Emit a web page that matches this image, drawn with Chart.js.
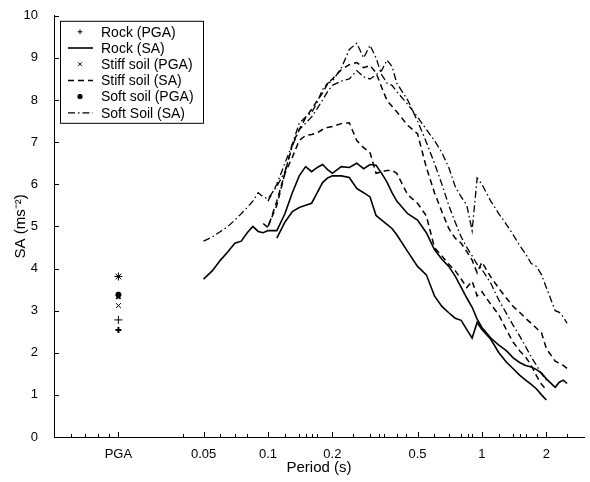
<!DOCTYPE html>
<html>
<head>
<meta charset="utf-8">
<script src="https://cdn.jsdelivr.net/npm/chart.js@4.4.1/dist/chart.umd.min.js"></script>
<style>
  body { margin: 0; background: #fff; }
  #wrap { width: 590px; height: 482px; }
</style>
</head>
<body>
<div id="wrap"><canvas id="saChart" width="590" height="482"></canvas></div>
<script>
// x position used for the PGA markers (plotted on the log period axis)
const pgaPeriod = 0.02;

const rockPGA = [2.78, 2.54];
const stiffPGA = [3.12, 3.33];
const softPGA = [3.81, 3.38];

// common period grid (s); null = no value for that record
const periods = [0.05, 0.055, 0.06, 0.065, 0.07, 0.075, 0.08, 0.085, 0.09, 0.095,
                 0.1, 0.11, 0.12, 0.13, 0.14, 0.15, 0.16, 0.17, 0.18, 0.19,
                 0.2, 0.22, 0.24, 0.26, 0.28, 0.3, 0.32, 0.34, 0.36, 0.38,
                 0.4, 0.45, 0.5, 0.55, 0.6, 0.65, 0.7, 0.75, 0.8, 0.85,
                 0.9, 0.95, 1, 1.1, 1.2, 1.3, 1.4, 1.5, 1.6, 1.7,
                 1.8, 1.9, 2, 2.2, 2.3, 2.4, 2.5];

const rockSA1 = [3.75, 3.95, 4.2, 4.4, 4.6, 4.65, 4.85, 5.0, 4.88, 4.85,
                 4.9, 4.9, 5.3, 5.8, 6.2, 6.42, 6.3, 6.4, 6.47, 6.35,
                 6.26, 6.42, 6.4, 6.5, 6.37, 6.47, 6.45, 6.26, 6.05, 5.8,
                 5.6, 5.3, 5.15, 4.85, 4.45, 4.22, 4.05, 3.82, 3.55, 3.3,
                 3.08, 2.8, 2.6, 2.35, 2.18, 2.05, 1.88, 1.77, 1.7, 1.66,
                 1.6, 1.52, 1.38, 1.18, 1.3, 1.35, 1.27];
const rockSA2 = [null, null, null, null, null, null, null, null, null, null,
                 null, 4.72, 5.1, 5.35, 5.45, 5.5, 5.55, 5.8, 6.04, 6.15,
                 6.2, 6.2, 6.16, 5.9, 5.8, 5.7, 5.26, 5.15, 5.05, 4.95,
                 4.8, 4.4, 4.05, 3.85, 3.35, 3.1, 2.95, 2.82, 2.77, 2.55,
                 2.35, 2.72, 2.55, 2.32, 2.0, 1.78, 1.62, 1.47, 1.35, 1.25,
                 1.14, 1.0, 0.88, null, null, null, null];
const stiffSA1 = [null, null, null, null, null, null, null, null, null, 5.07,
                  4.97, 5.6, 6.26, 6.64, 7.04, 7.16, 7.18, 7.22, 7.3, 7.35,
                  7.37, 7.44, 7.46, 7.04, 6.87, 6.75, 6.26, 6.3, 6.33, 6.33,
                  6.26, 5.75, 5.55, 5.25, 4.5, 4.3, 4.1, 3.95, 3.75, 3.55,
                  3.7, 3.35, 3.45, 3.15, 2.9, 2.55, 2.25, 2.05, 1.9, 1.7,
                  1.45, 1.25, 1.12, null, null, null, null];
const stiffSA2 = [null, null, null, null, null, null, null, null, null, null,
                  5.0, 5.5, 6.26, 6.95, 7.3, 7.58, 7.78, 7.99, 8.17, 8.39,
                  8.5, 8.72, 8.84, 8.89, 8.77, 8.82, 8.65, 8.3, 7.99, 7.85,
                  7.72, 7.4, 7.2, 6.4, 5.8, 5.35, 4.95, 4.72, 4.6, 4.4,
                  4.2, 3.9, 4.15, 3.8, 3.53, 3.3, 3.1, 2.96, 2.82, 2.7,
                  2.58, 2.47, 2.1, 1.8, 1.75, 1.7, 1.63];
const softSA1 = [4.65, 4.75, 4.88, 5.0, 5.15, 5.3, 5.45, 5.6, 5.8, 5.7,
                 5.66, 5.95, 6.3, 6.9, 7.3, 7.45, 7.6, 7.8, 8.0, 8.2,
                 8.35, 8.45, 8.5, 8.7, 8.55, 8.5, 8.6, 8.7, 8.95, 8.8,
                 8.4, 8.0, 7.5, 7.0, 6.5, 6.0, 5.5, 5.1, 4.75, 4.5,
                 4.3, 4.1, 3.98, 3.65, 3.25, 2.94, 2.65, 2.4, 2.15, 1.9,
                 1.7, 1.5, 1.35, null, null, null, null];
const softSA2 = [null, null, null, null, null, null, null, null, null, null,
                 5.6, 6.0, 6.5, 6.95, 7.45, 7.6, 7.7, 7.95, 8.25, 8.4,
                 8.45, 8.75, 9.2, 9.35, 9.0, 9.3, 9.0, 8.6, 8.4, 8.35,
                 8.2, 7.9, 7.6, 7.3, 7.04, 6.75, 6.4, 5.95, 5.7, 5.5,
                 4.9, 6.15, 6.0, 5.6, 5.3, 5.05, 4.8, 4.55, 4.35, 4.12,
                 4.05, 3.85, 3.55, 3.0, 2.96, 2.85, 2.7];

// x axis labels and tick marks
const tickValues = [0.02, 0.05, 0.1, 0.2, 0.5, 1, 2];
const tickLabels = ['PGA', '0.05', '0.1', '0.2', '0.5', '1', '2'];
const minorTicks = [0.012, 0.014, 0.016, 0.018, 0.04, 0.06, 0.07, 0.08, 0.12, 0.14,
                    0.15, 0.16, 0.17, 0.25, 0.3, 0.33, 0.35, 0.4, 0.44, 0.6,
                    0.7, 0.8, 0.86, 0.9, 1.2, 1.4, 1.5, 1.6, 1.8, 2.5];

const legendLabels = ['Rock (PGA)', 'Rock (SA)', 'Stiff soil (PGA)', 'Stiff soil (SA)', 'Soft soil (PGA)', 'Soft Soil (SA)'];

function toPoints(vals) {
    return periods.map((t, i) => ({ x: t, y: vals[i] })).filter(p => p.y !== null);
}
function pgaPoints(vals) {
    return vals.map(v => ({ x: pgaPeriod, y: v }));
}

const dashStiff = [6, 4];
const dashSoft = [7, 3, 1.5, 3];

function pgaSet(label, vals, style, radius, width) {
    return {
        label: label, data: pgaPoints(vals), showLine: false,
        pointStyle: style, pointRadius: radius, pointBorderWidth: width,
        borderColor: '#000', backgroundColor: '#000'
    };
}
function saSet(label, vals, dash, width) {
    return {
        label: label, data: toPoints(vals), showLine: true,
        borderColor: '#000', borderWidth: width, borderDash: dash,
        pointRadius: 0, tension: 0, fill: false
    };
}

const datasets = [
    pgaSet('Rock (PGA)', rockPGA, 'cross', [4, 3], [1, 2]),
    saSet('Rock (SA)', rockSA1, [], 1.6),
    saSet('Rock (SA)', rockSA2, [], 1.6),
    pgaSet('Stiff soil (PGA)', stiffPGA, 'crossRot', [3.5, 3], [1, 2]),
    saSet('Stiff soil (SA)', stiffSA1, dashStiff, 1.5),
    saSet('Stiff soil (SA)', stiffSA2, dashStiff, 1.5),
    pgaSet('Soft soil (PGA)', softPGA, 'star', [4, 3], [1, 2]),
    saSet('Soft Soil (SA)', softSA1, dashSoft, 1.3),
    saSet('Soft Soil (SA)', softSA2, dashSoft, 1.3)
];

function drawMarker(ctx, kind, x, y, r) {
    ctx.beginPath();
    if (kind === 'cross' || kind === 'star') {
        ctx.moveTo(x - r, y); ctx.lineTo(x + r, y);
        ctx.moveTo(x, y - r); ctx.lineTo(x, y + r);
    }
    if (kind === 'crossRot' || kind === 'star') {
        const d = r * 0.75;
        ctx.moveTo(x - d, y - d); ctx.lineTo(x + d, y + d);
        ctx.moveTo(x - d, y + d); ctx.lineTo(x + d, y - d);
    }
    ctx.stroke();
}

// MATLAB style ticks pointing into the plot
const inwardTicks = {
    id: 'inwardTicks',
    afterDraw(chart) {
        const { ctx, chartArea, scales } = chart;
        const xs = scales.x, ys = scales.y;
        ctx.save();
        ctx.strokeStyle = '#000';
        ctx.lineWidth = 1;
        ctx.beginPath();
        tickValues.forEach(v => {
            const px = Math.round(xs.getPixelForValue(v)) + 0.5;
            ctx.moveTo(px, chartArea.bottom);
            ctx.lineTo(px, chartArea.bottom - 5);
        });
        minorTicks.forEach(v => {
            const px = Math.round(xs.getPixelForValue(v)) + 0.5;
            ctx.moveTo(px, chartArea.bottom);
            ctx.lineTo(px, chartArea.bottom - 3);
        });
        for (let v = 0; v <= 10; v++) {
            const py = Math.round(ys.getPixelForValue(v)) + 0.5;
            ctx.moveTo(chartArea.left, py);
            ctx.lineTo(chartArea.left + 5, py);
        }
        ctx.stroke();
        ctx.restore();
    }
};

// boxed legend inside the axes, top left
const boxLegend = {
    id: 'boxLegend',
    afterDraw(chart) {
        const ctx = chart.ctx;
        const left = chart.chartArea.left + 6, top = chart.chartArea.top + 5;
        const w = 143, h = 102, rowH = 16.2;
        ctx.save();
        ctx.fillStyle = '#fff';
        ctx.fillRect(left, top, w, h);
        ctx.strokeStyle = '#000';
        ctx.lineWidth = 1;
        ctx.strokeRect(left + 0.5, top + 0.5, w, h);
        ctx.font = '14px "Liberation Sans", Arial, sans-serif';
        ctx.textBaseline = 'middle';
        legendLabels.forEach((label, i) => {
            const ds = chart.data.datasets.find(d => d.label === label);
            const y = top + 11 + i * rowH;
            ctx.strokeStyle = '#000';
            if (ds.showLine) {
                ctx.lineWidth = ds.borderWidth;
                ctx.setLineDash(ds.borderDash);
                ctx.beginPath();
                ctx.moveTo(left + 8, y);
                ctx.lineTo(left + 33, y);
                ctx.stroke();
                ctx.setLineDash([]);
            } else {
                ctx.lineWidth = ds.pointStyle === 'star' ? 2 : 1;
                drawMarker(ctx, ds.pointStyle, left + 20, y, 2.5);
            }
            ctx.fillStyle = '#000';
            ctx.fillText(label, left + 41, y + 1);
        });
        ctx.restore();
    }
};

const tickFont = { family: '"Liberation Sans", Arial, sans-serif', size: 13 };
const titleFont = { family: '"Liberation Sans", Arial, sans-serif', size: 15 };

new Chart(document.getElementById('saChart'), {
    type: 'scatter',
    data: { datasets: datasets },
    options: {
        responsive: false,
        animation: false,
        layout: { padding: { top: 15, right: 1, left: 0, bottom: 0 } },
        plugins: { legend: { display: false }, tooltip: { enabled: false } },
        scales: {
            x: {
                type: 'logarithmic',
                min: 0.01,
                max: 3,
                afterBuildTicks: scale => { scale.ticks = tickValues.map(v => ({ value: v })); },
                afterFit: scale => { scale.height = 45; },
                grid: { display: false },
                border: { display: true, color: '#000', width: 1 },
                ticks: {
                    color: '#000', font: tickFont, padding: 2, maxRotation: 0, autoSkip: false,
                    callback: v => tickLabels[tickValues.indexOf(v)]
                },
                title: { display: true, text: 'Period (s)', color: '#000', font: titleFont, padding: { top: 0, bottom: 5 } }
            },
            y: {
                min: 0,
                max: 10,
                afterFit: scale => { scale.width = 54; },
                grid: { display: false },
                border: { display: true, color: '#000', width: 1 },
                ticks: { stepSize: 1, color: '#000', font: tickFont, padding: 8 },
                title: { display: true, text: 'SA (ms\u207B\u00B2)', color: '#000', font: titleFont, padding: { top: 12, bottom: 0 } }
            }
        }
    },
    plugins: [inwardTicks, boxLegend]
});
</script>
</body>
</html>
